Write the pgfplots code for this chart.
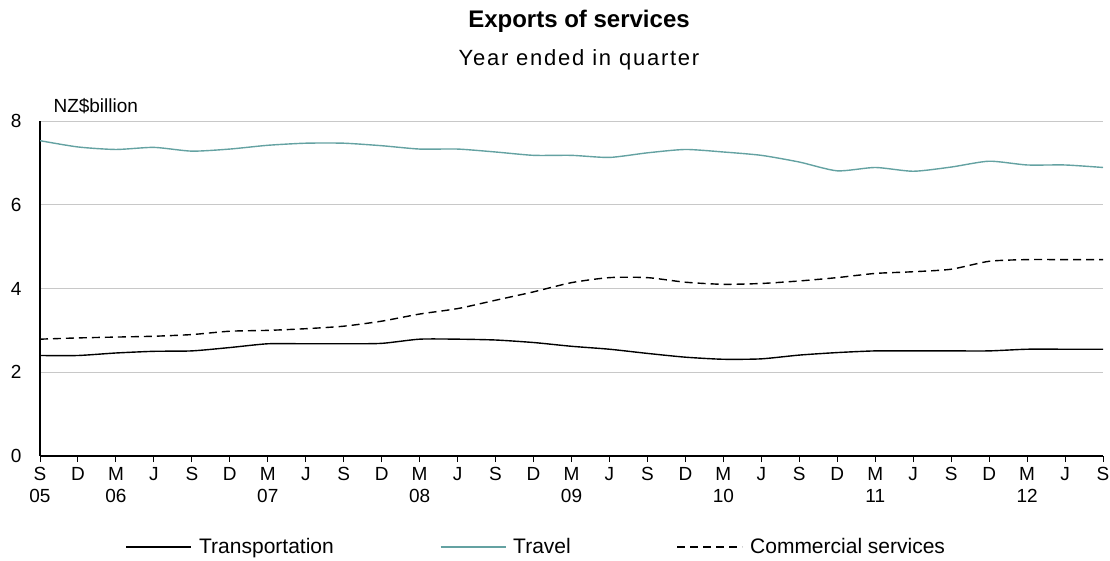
\documentclass[border=0pt]{standalone}
\usepackage{pgfplots}
\usepackage{pgfplotstable}
\pgfplotsset{compat=1.18}
\usepackage{fontspec}
\setmainfont{Liberation Sans}

\definecolor{travel}{RGB}{100,162,162}
\definecolor{gridgray}{RGB}{200,200,200}

% Year ended in quarter, NZ$ billion
\pgfplotstableread{
idx transport travel commercial
0  2.40 7.53 2.79
1  2.40 7.38 2.82
2  2.46 7.32 2.84
3  2.50 7.37 2.86
4  2.51 7.28 2.90
5  2.59 7.33 2.98
6  2.68 7.42 3.00
7  2.68 7.47 3.04
8  2.68 7.47 3.10
9  2.69 7.41 3.22
10 2.79 7.33 3.39
11 2.79 7.33 3.52
12 2.77 7.26 3.72
13 2.71 7.18 3.92
14 2.62 7.18 4.14
15 2.55 7.13 4.26
16 2.45 7.24 4.26
17 2.36 7.32 4.15
18 2.31 7.26 4.10
19 2.32 7.18 4.12
20 2.41 7.02 4.18
21 2.47 6.81 4.26
22 2.51 6.89 4.36
23 2.51 6.80 4.40
24 2.51 6.90 4.46
25 2.51 7.04 4.65
26 2.55 6.95 4.69
27 2.55 6.95 4.69
28 2.55 6.89 4.69
}\exports

\begin{document}
\begin{tikzpicture}
\path[use as bounding box] (0,0) rectangle (1110pt,560pt);
\node[font=\fontsize{24}{28}\selectfont\bfseries, anchor=base] at (579pt,532pt) {Exports of services};
\node[font=\fontsize{22}{26}\selectfont\addfontfeatures{LetterSpace=8}, anchor=base] at (579pt,494pt) {Year ended in quarter};
\begin{axis}[
  at={(40pt,104pt)}, anchor=south west,
  scale only axis, width=1063pt, height=335pt,
  xmin=0, xmax=28, ymin=0, ymax=8,
  axis lines*=left,
  axis line style={line width=1.3pt, black},
  xtick={0,...,28},
  xticklabels={{S\\05},D,{M\\06},J,S,D,{M\\07},J,S,D,{M\\08},J,S,D,{M\\09},J,S,D,{M\\10},J,S,D,{M\\11},J,S,D,{M\\12},J,S},
  x tick label style={font=\fontsize{19}{22}\selectfont, align=center, anchor=north, yshift=-2pt},
  tick align=outside,
  xtick style={black, line width=1pt},
  major tick length=6pt,
  ytick={0,2,4,6,8},
  ytick style={draw=none},
  y tick label style={font=\fontsize{19}{23}\selectfont, xshift=-9pt},
  ymajorgrids,
  grid style={gridgray, line width=1pt},
  /pgf/number format/assume math mode=true,
  legend columns=3,
  legend style={at={(0.467,-0.272)}, anchor=center, draw=none, fill=none,
    font=\fontsize{21}{25}\selectfont,
    /tikz/every even column/.append style={column sep=104pt}},
  legend image code/.code={\draw[#1] (0pt,0pt) -- (65pt,0pt); \path (70pt,0pt);},
  legend cell align=left,
]
\addplot[black, line width=1.4pt, smooth, tension=0.4] table[x=idx, y=transport] {\exports};
\addlegendentry{Transportation}
\addplot[travel, line width=1.4pt, smooth, tension=0.4] table[x=idx, y=travel] {\exports};
\addlegendentry{Travel}
\addplot[black, line width=1.4pt, dash pattern=on 8pt off 5pt, smooth, tension=0.4] table[x=idx, y=commercial] {\exports};
\addlegendentry{Commercial services}
\end{axis}
\node[anchor=base west, font=\fontsize{19}{23}\selectfont] at (50pt,447pt) {NZ\$billion};
\end{tikzpicture}
\end{document}
